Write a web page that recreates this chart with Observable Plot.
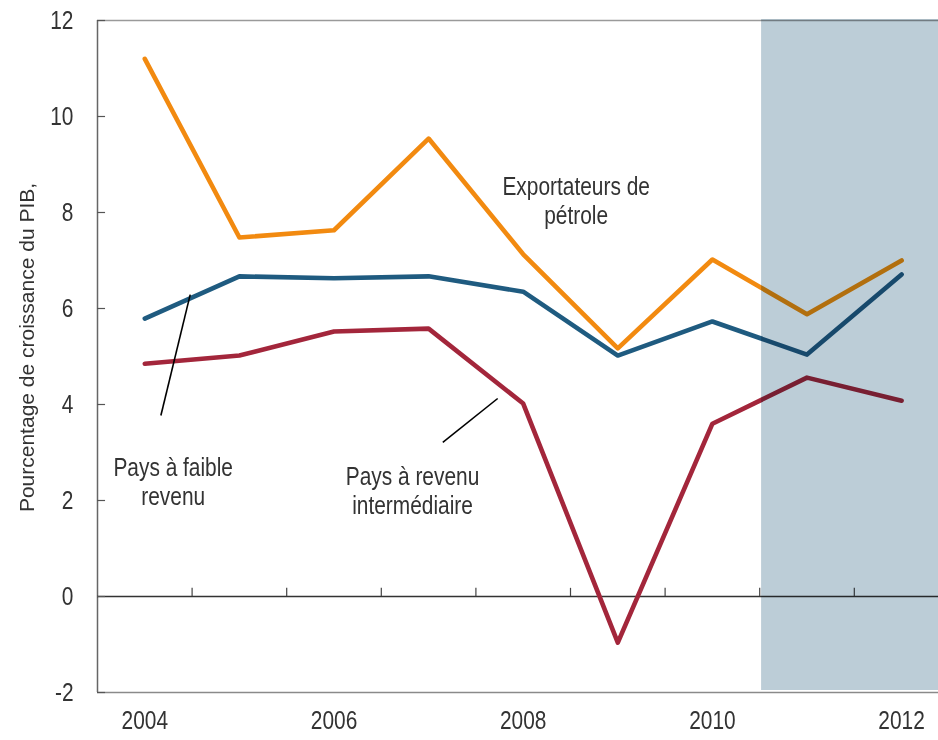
<!DOCTYPE html>
<html><head><meta charset="utf-8">
<script src="https://cdn.jsdelivr.net/npm/d3@7"></script>
<script src="https://cdn.jsdelivr.net/npm/@observablehq/plot@0.6"></script>
<style>
body{margin:0;background:#fff}
#chart svg{font-family:"Liberation Sans",Arial,sans-serif;}
</style>
</head><body><div id="chart"></div>
<script>
const years = [2004, 2005, 2006, 2007, 2008, 2009, 2010, 2011, 2012];
const oilExporters = [11.2, 7.48, 7.63, 9.54, 7.13, 5.17, 7.02, 5.88, 7.0];
const lowIncome = [5.79, 6.67, 6.63, 6.67, 6.35, 5.02, 5.73, 5.04, 6.71];
const middleIncome = [4.85, 5.02, 5.52, 5.58, 4.02, -0.96, 3.6, 4.56, 4.08];
const seriesNames = ["Exportateurs de pétrole", "Pays à faible revenu", "Pays à revenu intermédiaire"];
const seriesColors = ["#f28a10", "#1f5b80", "#a3263b"];
const yTicks = [-2, 0, 2, 4, 6, 8, 10, 12];
const xTickLabels = [2004, 2006, 2008, 2010, 2012];
const boundaryTicks = [2004.5, 2005.5, 2006.5, 2007.5, 2008.5, 2009.5, 2010.5, 2011.5];
const yLabel = "Pourcentage de croissance du PIB,";
const labelOil = "Exportateurs de\npétrole";
const labelLow = "Pays à faible\nrevenu";
const labelMid = "Pays à revenu\nintermédiaire";
const forecastStart = 2010.5;

const xMin = 2003.5, xMax = 2012.39;
const rows = [];
[oilExporters, lowIncome, middleIncome].forEach((vals, i) =>
  vals.forEach((v, j) => rows.push({year: years[j], value: v, series: seriesNames[i]})));

const textColor = "#333";
const fs = 25.5;

const chart = Plot.plot({
  width: 938,
  height: 740,
  marginLeft: 97,
  marginRight: 0,
  marginTop: 20,
  marginBottom: 48,
  style: {fontSize: fs + "px", color: textColor, background: "#fff"},
  x: {domain: [xMin, xMax], clamp: true},
  y: {domain: [-2, 12]},
  color: {domain: seriesNames, range: seriesColors},
  marks: [
    Plot.ruleY([12], {stroke: "#9a9a9a", strokeWidth: 1.5}),
    Plot.ruleY([-2], {stroke: "#8a8a8a", strokeWidth: 1.5}),
    Plot.ruleX([xMin], {stroke: "#666", strokeWidth: 1.5}),
    Plot.ruleY([0], {stroke: "#333", strokeWidth: 1.5}),
    Plot.ruleX(boundaryTicks, {y1: 0, y2: 0.17, stroke: "#444", strokeWidth: 1.2}),
    Plot.ruleY(yTicks, {x1: xMin, x2: xMin + 0.085, stroke: "#555", strokeWidth: 1.2}),
    Plot.line(rows, {x: "year", y: "value", z: "series", stroke: "series", strokeWidth: 4.6, strokeLinejoin: "round", strokeLinecap: "round"}),
    Plot.link([{a: 2004.17, b: 3.77, c: 2004.48, d: 6.29}, {a: 2007.15, b: 3.21, c: 2007.73, d: 4.125}],
      {x1: "a", y1: "b", x2: "c", y2: "d", stroke: "#000", strokeWidth: 1.6}),
    Plot.rect([forecastStart], {x1: d => d + 0.02, x2: xMax, y1: -2, y2: 12, insetBottom: 2, insetTop: -1, fill: "#bccdd7", mixBlendMode: "multiply"}),
    Plot.text([labelOil], {x: 2008.56, y: 8.25, fill: textColor, fontSize: fs, lineHeight: 1.14}),
    Plot.text([labelLow], {x: 2004.3, y: 2.4, fill: textColor, fontSize: fs, lineHeight: 1.14}),
    Plot.text([labelMid], {x: 2006.83, y: 2.21, fill: textColor, fontSize: fs, lineHeight: 1.14}),
    Plot.text([yLabel], {frameAnchor: "left", textAnchor: "middle", rotate: -90, dx: -70, dy: -9, fill: textColor, fontSize: 21}),
    Plot.axisY(yTicks, {tickSize: 0, tickPadding: 24, tickFormat: d => String(d), fill: textColor, fontSize: fs, label: null}),
    Plot.axisX(xTickLabels, {tickSize: 0, tickPadding: 18, tickFormat: d => String(d), fill: textColor, fontSize: fs, label: null})
  ]
});
document.getElementById("chart").appendChild(chart);
const r = chart.querySelector('g[aria-label="rect"]');
if (r) r.style.mixBlendMode = "multiply";
// condensed look: narrow the regular face horizontally around each text's anchor
chart.querySelectorAll("text").forEach(t => {
  const tr = t.getAttribute("transform");
  if (tr && !tr.includes("rotate")) t.setAttribute("transform", tr + " scale(0.82,1)");
});
</script>
</body></html>
